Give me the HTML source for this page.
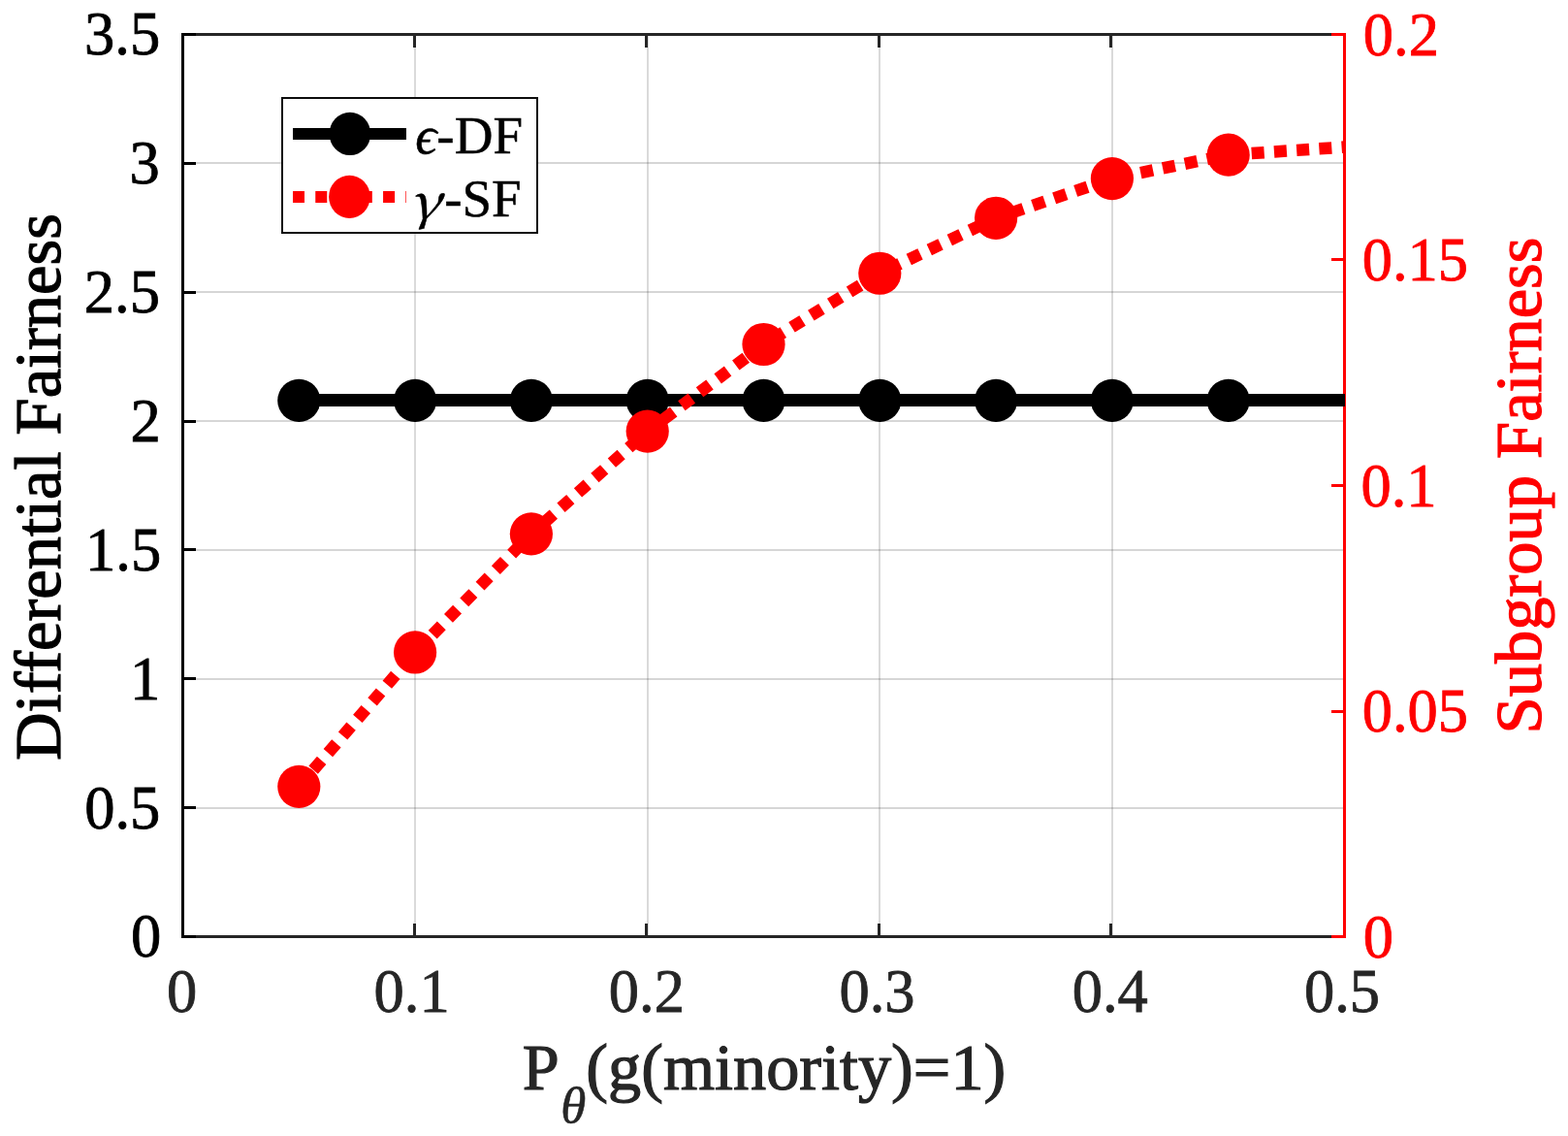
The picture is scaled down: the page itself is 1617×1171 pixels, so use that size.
<!DOCTYPE html>
<html><head><meta charset="utf-8"><title>Differential vs Subgroup Fairness</title>
<style>html,body{margin:0;padding:0;background:#fff;width:1617px;height:1171px;overflow:hidden}svg{display:block}</style>
</head><body>
<svg width="1617" height="1171" viewBox="0 0 1617 1171" style="position:absolute;left:0;top:0">
<rect x="0" y="0" width="1617" height="1171" fill="#fff"/>
<line x1="428.00" y1="35.5" x2="428.00" y2="965.5" stroke="#262626" stroke-opacity="0.17" stroke-width="2"/>
<line x1="668.00" y1="35.5" x2="668.00" y2="965.5" stroke="#262626" stroke-opacity="0.17" stroke-width="2"/>
<line x1="907.00" y1="35.5" x2="907.00" y2="965.5" stroke="#262626" stroke-opacity="0.17" stroke-width="2"/>
<line x1="1147.00" y1="35.5" x2="1147.00" y2="965.5" stroke="#262626" stroke-opacity="0.17" stroke-width="2"/>
<line x1="188.5" y1="833.00" x2="1386.5" y2="833.00" stroke="#262626" stroke-opacity="0.19" stroke-width="2"/>
<line x1="188.5" y1="700.00" x2="1386.5" y2="700.00" stroke="#262626" stroke-opacity="0.19" stroke-width="2"/>
<line x1="188.5" y1="567.00" x2="1386.5" y2="567.00" stroke="#262626" stroke-opacity="0.19" stroke-width="2"/>
<line x1="188.5" y1="434.00" x2="1386.5" y2="434.00" stroke="#262626" stroke-opacity="0.19" stroke-width="2"/>
<line x1="188.5" y1="301.00" x2="1386.5" y2="301.00" stroke="#262626" stroke-opacity="0.19" stroke-width="2"/>
<line x1="188.5" y1="168.00" x2="1386.5" y2="168.00" stroke="#262626" stroke-opacity="0.19" stroke-width="2"/>
<line x1="187.0" y1="35.5" x2="1388.0" y2="35.5" stroke="#262626" stroke-width="3"/>
<line x1="187.0" y1="965.5" x2="1388.0" y2="965.5" stroke="#262626" stroke-width="3"/>
<line x1="188.50" y1="965.5" x2="188.50" y2="952.0" stroke="#262626" stroke-width="3"/>
<line x1="188.50" y1="35.5" x2="188.50" y2="49.0" stroke="#262626" stroke-width="3"/>
<line x1="427.50" y1="965.5" x2="427.50" y2="952.0" stroke="#262626" stroke-width="3"/>
<line x1="427.50" y1="35.5" x2="427.50" y2="49.0" stroke="#262626" stroke-width="3"/>
<line x1="666.50" y1="965.5" x2="666.50" y2="952.0" stroke="#262626" stroke-width="3"/>
<line x1="666.50" y1="35.5" x2="666.50" y2="49.0" stroke="#262626" stroke-width="3"/>
<line x1="906.50" y1="965.5" x2="906.50" y2="952.0" stroke="#262626" stroke-width="3"/>
<line x1="906.50" y1="35.5" x2="906.50" y2="49.0" stroke="#262626" stroke-width="3"/>
<line x1="1145.50" y1="965.5" x2="1145.50" y2="952.0" stroke="#262626" stroke-width="3"/>
<line x1="1145.50" y1="35.5" x2="1145.50" y2="49.0" stroke="#262626" stroke-width="3"/>
<line x1="1386.50" y1="965.5" x2="1386.50" y2="952.0" stroke="#262626" stroke-width="3"/>
<line x1="1386.50" y1="35.5" x2="1386.50" y2="49.0" stroke="#262626" stroke-width="3"/>
<line x1="188.5" y1="34.0" x2="188.5" y2="967.0" stroke="#000" stroke-width="3"/>
<line x1="188.5" y1="965.50" x2="202.0" y2="965.50" stroke="#000" stroke-width="3"/>
<line x1="188.5" y1="832.50" x2="202.0" y2="832.50" stroke="#000" stroke-width="3"/>
<line x1="188.5" y1="699.50" x2="202.0" y2="699.50" stroke="#000" stroke-width="3"/>
<line x1="188.5" y1="566.50" x2="202.0" y2="566.50" stroke="#000" stroke-width="3"/>
<line x1="188.5" y1="434.50" x2="202.0" y2="434.50" stroke="#000" stroke-width="3"/>
<line x1="188.5" y1="301.50" x2="202.0" y2="301.50" stroke="#000" stroke-width="3"/>
<line x1="188.5" y1="168.50" x2="202.0" y2="168.50" stroke="#000" stroke-width="3"/>
<line x1="188.5" y1="35.50" x2="202.0" y2="35.50" stroke="#000" stroke-width="3"/>
<line x1="1386.5" y1="34.0" x2="1386.5" y2="967.0" stroke="#f00" stroke-width="3"/>
<line x1="1373.0" y1="965.50" x2="1386.5" y2="965.50" stroke="#f00" stroke-width="3"/>
<line x1="1373.0" y1="733.50" x2="1386.5" y2="733.50" stroke="#f00" stroke-width="3"/>
<line x1="1373.0" y1="500.50" x2="1386.5" y2="500.50" stroke="#f00" stroke-width="3"/>
<line x1="1373.0" y1="267.50" x2="1386.5" y2="267.50" stroke="#f00" stroke-width="3"/>
<line x1="1373.0" y1="35.50" x2="1386.5" y2="35.50" stroke="#f00" stroke-width="3"/>
<line x1="308.30" y1="412.5" x2="1387.0" y2="412.5" stroke="#000" stroke-width="13"/>
<circle cx="308.30" cy="412.9" r="22.1" fill="#000"/>
<circle cx="428.10" cy="412.9" r="22.1" fill="#000"/>
<circle cx="547.90" cy="412.9" r="22.1" fill="#000"/>
<circle cx="667.70" cy="412.9" r="22.1" fill="#000"/>
<circle cx="787.50" cy="412.9" r="22.1" fill="#000"/>
<circle cx="907.30" cy="412.9" r="22.1" fill="#000"/>
<circle cx="1027.10" cy="412.9" r="22.1" fill="#000"/>
<circle cx="1146.90" cy="412.9" r="22.1" fill="#000"/>
<circle cx="1266.70" cy="412.9" r="22.1" fill="#000"/>
<defs><clipPath id="ax"><rect x="188.5" y="35.5" width="1198.5" height="930.0"/></clipPath></defs>
<path d="M308.30,810.84 L428.10,672.47 L547.90,550.37 L667.70,444.55 L787.50,355.01 L907.30,281.75 L1027.10,224.78 L1146.90,184.08 L1266.70,159.66 L1386.50,151.52" fill="none" stroke="#f00" stroke-width="12.5" stroke-dasharray="13 10.27" stroke-dashoffset="0.61" clip-path="url(#ax)"/>
<circle cx="308.30" cy="810.84" r="22.1" fill="#f00"/>
<circle cx="428.10" cy="672.47" r="22.1" fill="#f00"/>
<circle cx="547.90" cy="550.37" r="22.1" fill="#f00"/>
<circle cx="667.70" cy="444.55" r="22.1" fill="#f00"/>
<circle cx="787.50" cy="355.01" r="22.1" fill="#f00"/>
<circle cx="907.30" cy="281.75" r="22.1" fill="#f00"/>
<circle cx="1027.10" cy="224.78" r="22.1" fill="#f00"/>
<circle cx="1146.90" cy="184.08" r="22.1" fill="#f00"/>
<circle cx="1266.70" cy="159.66" r="22.1" fill="#f00"/>
<text x="171.93" y="1043.40" font-family="'Liberation Serif', serif" font-size="62.5" fill="#262626" text-anchor="start" stroke="#262626" stroke-width="0.8">0</text>
<text x="385.57" y="1043.40" font-family="'Liberation Serif', serif" font-size="62.5" fill="#262626" text-anchor="start" stroke="#262626" stroke-width="0.8">0.1</text>
<text x="627.87" y="1043.40" font-family="'Liberation Serif', serif" font-size="62.5" fill="#262626" text-anchor="start" stroke="#262626" stroke-width="0.8">0.2</text>
<text x="865.47" y="1043.40" font-family="'Liberation Serif', serif" font-size="62.5" fill="#262626" text-anchor="start" stroke="#262626" stroke-width="0.8">0.3</text>
<text x="1105.74" y="1043.40" font-family="'Liberation Serif', serif" font-size="62.5" fill="#262626" text-anchor="start" stroke="#262626" stroke-width="0.8">0.4</text>
<text x="1344.97" y="1043.40" font-family="'Liberation Serif', serif" font-size="62.5" fill="#262626" text-anchor="start" stroke="#262626" stroke-width="0.8">0.5</text>
<text x="134.93" y="986.40" font-family="'Liberation Serif', serif" font-size="62.5" fill="#000" text-anchor="start" stroke="#000" stroke-width="0.8">0</text>
<text x="87.17" y="853.54" font-family="'Liberation Serif', serif" font-size="62.5" fill="#000" text-anchor="start" stroke="#000" stroke-width="0.8">0.5</text>
<text x="134.11" y="720.69" font-family="'Liberation Serif', serif" font-size="62.5" fill="#000" text-anchor="start" stroke="#000" stroke-width="0.8">1</text>
<text x="88.11" y="587.83" font-family="'Liberation Serif', serif" font-size="62.5" fill="#000" text-anchor="start" stroke="#000" stroke-width="0.8">1.5</text>
<text x="134.58" y="454.97" font-family="'Liberation Serif', serif" font-size="62.5" fill="#000" text-anchor="start" stroke="#000" stroke-width="0.8">2</text>
<text x="86.83" y="322.11" font-family="'Liberation Serif', serif" font-size="62.5" fill="#000" text-anchor="start" stroke="#000" stroke-width="0.8">2.5</text>
<text x="133.50" y="189.26" font-family="'Liberation Serif', serif" font-size="62.5" fill="#000" text-anchor="start" stroke="#000" stroke-width="0.8">3</text>
<text x="87.11" y="56.40" font-family="'Liberation Serif', serif" font-size="62.5" fill="#000" text-anchor="start" stroke="#000" stroke-width="0.8">3.5</text>
<text x="1405.83" y="986.50" font-family="'Liberation Serif', serif" font-size="62.5" fill="#f00" text-anchor="start" stroke="#f00" stroke-width="0.8">0</text>
<text x="1404.69" y="754.00" font-family="'Liberation Serif', serif" font-size="62.5" fill="#f00" text-anchor="start" stroke="#f00" stroke-width="0.8">0.05</text>
<text x="1403.47" y="521.50" font-family="'Liberation Serif', serif" font-size="62.5" fill="#f00" text-anchor="start" stroke="#f00" stroke-width="0.8">0.1</text>
<text x="1404.69" y="289.00" font-family="'Liberation Serif', serif" font-size="62.5" fill="#f00" text-anchor="start" stroke="#f00" stroke-width="0.8">0.15</text>
<text x="1405.87" y="56.50" font-family="'Liberation Serif', serif" font-size="62.5" fill="#f00" text-anchor="start" stroke="#f00" stroke-width="0.8">0.2</text>
<text transform="translate(61.5,502) rotate(-90)" font-family="'Liberation Serif', serif" font-size="68.5" fill="#000" stroke="#000" stroke-width="1.2" text-anchor="middle">Differential Fairness</text>
<text transform="translate(1588.5,500.5) rotate(-90)" font-family="'Liberation Serif', serif" font-size="68.5" fill="#f00" stroke="#f00" stroke-width="1.2" text-anchor="middle">Subgroup Fairness</text>
<text x="788" y="1123" font-family="'Liberation Serif', serif" font-size="68.3" fill="#262626" stroke="#262626" stroke-width="1.2" text-anchor="middle">P<tspan font-style="italic" font-size="53" stroke-width="0.6" dx="1.5" dy="33.5">θ</tspan><tspan dy="-33.5">(g(minority)=1)</tspan></text>
<rect x="291" y="101" width="263" height="139" fill="#fff" stroke="#0d0d0d" stroke-width="2"/>
<line x1="302" y1="138" x2="419" y2="138" stroke="#000" stroke-width="12"/>
<ellipse cx="360.9" cy="137.9" rx="21.3" ry="22.2" fill="#000"/>
<line x1="302" y1="203" x2="419" y2="203" stroke="#f00" stroke-width="12" stroke-dasharray="12 11.27"/>
<ellipse cx="360.4" cy="202.8" rx="21.3" ry="22.1" fill="#f00"/>
<text x="428.2" y="157.7" font-family="'Liberation Serif', serif" font-size="55" fill="#000" stroke="#000" stroke-width="0.5"><tspan font-style="italic">ϵ</tspan>-DF</text>
<text transform="translate(421.5,225.9) scale(1.10,0.913) skewX(-14)" font-family="&quot;Noto Serif CJK SC&quot;, serif" font-size="55" fill="#000" stroke="#000" stroke-width="0.5">γ</text>
<text x="458.2" y="223" font-family="'Liberation Serif', serif" font-size="55" fill="#000" stroke="#000" stroke-width="0.5">-SF</text>
</svg>
</body></html>
